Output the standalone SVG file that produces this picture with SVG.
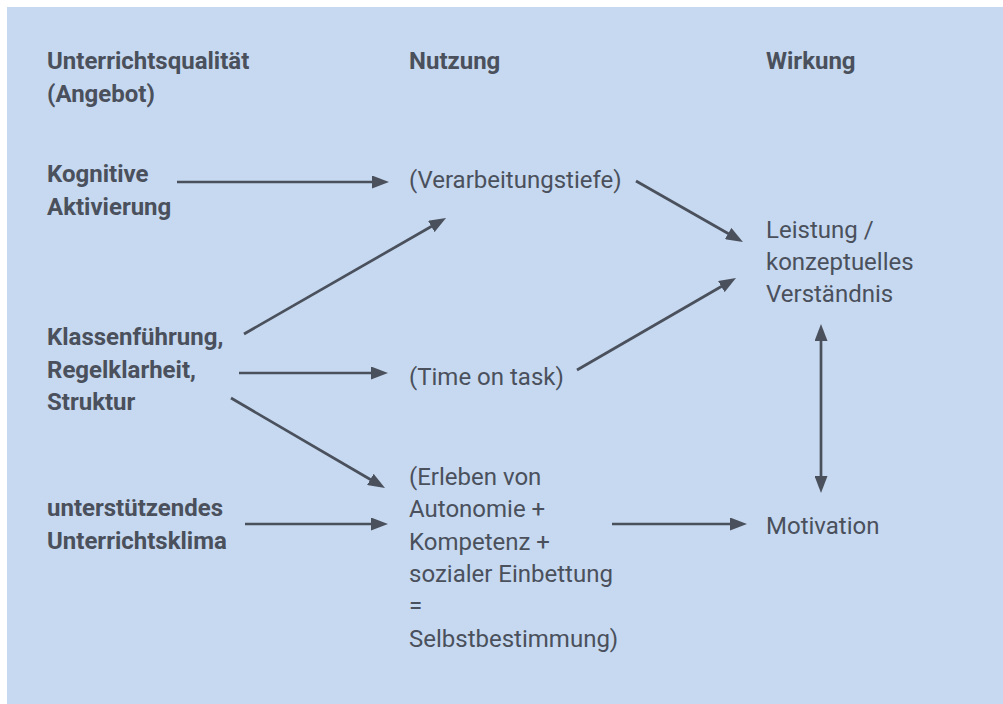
<svg xmlns="http://www.w3.org/2000/svg" width="1003" height="704" viewBox="0 0 1003 704">
<style>
text{font-family:Roboto,"Noto Sans",sans-serif;font-size:24px;fill:#4a505c}
.b{font-weight:bold}
.c line{stroke:#4a505c;stroke-width:2.7;fill:none;marker-end:url(#ah)}
</style>
<defs>
<marker id="ah" markerUnits="userSpaceOnUse" markerWidth="17" markerHeight="13" refX="9" refY="6.5" orient="auto-start-reverse">
<path d="M0,0 L17,6.5 L0,13 z" fill="#4a505c"/>
</marker>
</defs>
<rect x="7" y="7" width="996" height="697" fill="#c6d9f0"/>
<g id="h1"><text class="b" x="47" y="69">Unterrichtsqualität</text><text class="b" x="47" y="102">(Angebot)</text></g>
<g id="h2"><text class="b" x="409" y="69">Nutzung</text></g>
<g id="h3"><text class="b" x="766" y="69">Wirkung</text></g>
<g id="kog"><text class="b" x="47" y="182">Kognitive</text><text class="b" x="47" y="214.5">Aktivierung</text></g>
<g id="klass"><text class="b" x="47" y="345">Klassenführung,</text><text class="b" x="47" y="377.5">Regelklarheit,</text><text class="b" x="47" y="410">Struktur</text></g>
<g id="klima"><text class="b" x="47" y="516">unterstützendes</text><text class="b" x="47" y="548.5">Unterrichtsklima</text></g>
<g id="verarb"><text x="409" y="188">(Verarbeitungstiefe)</text></g>
<g id="time"><text x="409" y="385">(Time on task)</text></g>
<g id="erleben"><text x="409" y="485">(Erleben von</text><text x="409" y="517">Autonomie +</text><text x="409" y="550">Kompetenz +</text><text x="409" y="582">sozialer Einbettung</text><text x="409" y="614">=</text><text x="409" y="647">Selbstbestimmung)</text></g>
<g id="leistung"><text x="766" y="238">Leistung /</text><text x="766" y="270">konzeptuelles</text><text x="766" y="302">Verständnis</text></g>
<g id="motiv"><text x="766" y="534">Motivation</text></g>
<g id="connectors" class="c">
<line x1="177" y1="182" x2="381" y2="182"/>
<line x1="244" y1="334" x2="439.1" y2="222"/>
<line x1="239" y1="373" x2="380" y2="373"/>
<line x1="231" y1="398" x2="378.1" y2="484"/>
<line x1="245" y1="524" x2="380" y2="524"/>
<line x1="636" y1="181" x2="736" y2="238"/>
<line x1="577" y1="370" x2="729.1" y2="282"/>
<line x1="612" y1="524" x2="739" y2="524"/>
<line x1="821" y1="332" x2="821" y2="485" style="marker-start:url(#ah)"/>
</g>
</svg>
